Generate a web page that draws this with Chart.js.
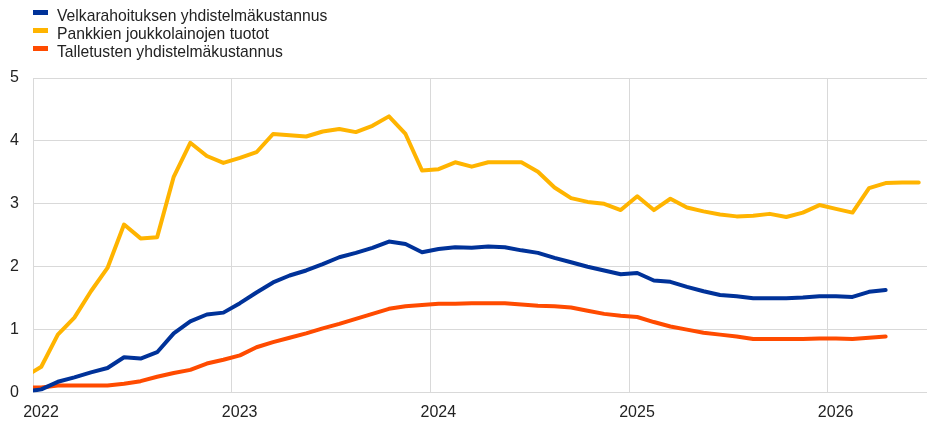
<!DOCTYPE html>
<html>
<head>
<meta charset="utf-8">
<script src="https://cdn.jsdelivr.net/npm/chart.js@4"></script>
<style>
  body { margin: 0; background: #fff; }
  #wrap { position: relative; width: 927px; height: 421px; }
  #legend { position: absolute; left: 33px; top: 7px; font-family: "Liberation Sans", Arial, sans-serif; font-size: 15.7px; color: #222; }
  .item { position: relative; height: 18px; line-height: 18px; padding-left: 24px; white-space: nowrap; }
  .item span { position: absolute; left: 0; top: 3px; width: 15px; height: 5px; }
</style>
</head>
<body>
<div id="wrap">
  <canvas id="chart" width="927" height="421"></canvas>
  <div id="legend"></div>
</div>
<script>
// months (mid-month points), Dec 2021 .. Jun 2026
const months = [
  '2021-12',
  '2022-01','2022-02','2022-03','2022-04','2022-05','2022-06','2022-07','2022-08','2022-09','2022-10','2022-11','2022-12',
  '2023-01','2023-02','2023-03','2023-04','2023-05','2023-06','2023-07','2023-08','2023-09','2023-10','2023-11','2023-12',
  '2024-01','2024-02','2024-03','2024-04','2024-05','2024-06','2024-07','2024-08','2024-09','2024-10','2024-11','2024-12',
  '2025-01','2025-02','2025-03','2025-04','2025-05','2025-06','2025-07','2025-08','2025-09','2025-10','2025-11','2025-12',
  '2026-01','2026-02','2026-03','2026-04','2026-05','2026-06'
];

const seriesNames = [
  'Velkarahoituksen yhdistelmäkustannus',
  'Pankkien joukkolainojen tuotot',
  'Talletusten yhdistelmäkustannus'
];

// Velkarahoituksen yhdistelmäkustannus
const debtCost = [
  0.01,
  0.05, 0.17, 0.24, 0.32, 0.39, 0.56, 0.54, 0.64, 0.94, 1.13, 1.24, 1.27,
  1.42, 1.59, 1.75, 1.86, 1.94, 2.04, 2.15, 2.22, 2.30, 2.40, 2.36, 2.23,
  2.28, 2.31, 2.30, 2.32, 2.31, 2.26, 2.22, 2.14, 2.07, 2.00, 1.94, 1.88,
  1.90, 1.78, 1.76, 1.68, 1.61, 1.55, 1.53, 1.50, 1.50, 1.50, 1.51, 1.53,
  1.53, 1.52, 1.60, 1.63, null, null
];

// Pankkien joukkolainojen tuotot
const bondYields = [
  0.25,
  0.41, 0.92, 1.19, 1.61, 1.98, 2.67, 2.45, 2.47, 3.43, 3.97, 3.76, 3.65,
  3.73, 3.82, 4.11, 4.09, 4.07, 4.15, 4.19, 4.14, 4.24, 4.39, 4.11, 3.53,
  3.55, 3.66, 3.59, 3.66, 3.66, 3.66, 3.51, 3.26, 3.09, 3.03, 3.00, 2.90,
  3.12, 2.90, 3.08, 2.94, 2.88, 2.83, 2.80, 2.81, 2.84, 2.79, 2.86, 2.98,
  2.92, 2.86, 3.25, 3.33, 3.34, 3.34
];

// Talletusten yhdistelmäkustannus
const depositCost = [
  0.08,
  0.08, 0.11, 0.11, 0.11, 0.11, 0.14, 0.18, 0.25, 0.31, 0.36, 0.46, 0.52,
  0.59, 0.72, 0.80, 0.87, 0.94, 1.02, 1.09, 1.17, 1.25, 1.33, 1.37, 1.39,
  1.41, 1.41, 1.42, 1.42, 1.42, 1.40, 1.38, 1.37, 1.35, 1.30, 1.25, 1.22,
  1.20, 1.12, 1.05, 1.00, 0.95, 0.92, 0.89, 0.85, 0.85, 0.85, 0.85, 0.86,
  0.86, 0.85, 0.87, 0.89, null, null
];

const yearTicks = [2022, 2023, 2024, 2025, 2026];
const colors = ['#003299', '#ffb400', '#ff4b00'];

// month string -> fractional year at mid-month
function monthX(s) {
  const p = s.split('-');
  return +p[0] + (+p[1] - 0.5) / 12;
}
function toPoints(values) {
  return values.map((v, i) => ({ x: monthX(months[i]), y: v }));
}

const allSeries = [debtCost, bondYields, depositCost];

const ctx = document.getElementById('chart').getContext('2d');
const myChart = new Chart(ctx, {
  type: 'line',
  data: {
    datasets: allSeries.map((vals, i) => ({
      label: seriesNames[i],
      data: toPoints(vals),
      borderColor: colors[i],
      backgroundColor: colors[i],
      borderWidth: 4,
      pointRadius: 0,
      tension: 0,
      borderCapStyle: 'round',
      borderJoinStyle: 'round',
      spanGaps: false
    }))
  },
  options: {
    responsive: false,
    animation: false,
    layout: { padding: { top: 78, right: 0, bottom: 0, left: 0 } },
    plugins: { legend: { display: false }, tooltip: { enabled: false } },
    scales: {
      x: {
        type: 'linear',
        min: 2022,
        max: 2026.5,
        afterBuildTicks: s => { s.ticks = yearTicks.map(v => ({ value: v })); },
        afterFit: s => { s.height = 28.5; },
        grid: { color: '#d9d9d9', lineWidth: 1, drawTicks: false },
        border: { color: '#d9d9d9' },
        ticks: {
          padding: 10,
          labelOffset: 8,
          maxRotation: 0,
          autoSkip: false,
          color: '#222',
          font: { family: '"Liberation Sans", Arial, sans-serif', size: 16 },
          callback: v => String(v)
        }
      },
      y: {
        min: 0,
        max: 5,
        afterFit: s => { s.width = 33; },
        grid: { color: '#d9d9d9', lineWidth: 1, drawTicks: false },
        border: { display: false },
        ticks: {
          stepSize: 1,
          padding: 14,
          color: '#222',
          font: { family: '"Liberation Sans", Arial, sans-serif', size: 16 }
        }
      }
    }
  }
});

// html legend, one item per row
const legend = document.getElementById('legend');
myChart.data.datasets.forEach(ds => {
  const row = document.createElement('div');
  row.className = 'item';
  row.innerHTML = '<span style="background:' + ds.borderColor + '"></span>' + ds.label;
  legend.appendChild(row);
});
</script>
</body>
</html>
